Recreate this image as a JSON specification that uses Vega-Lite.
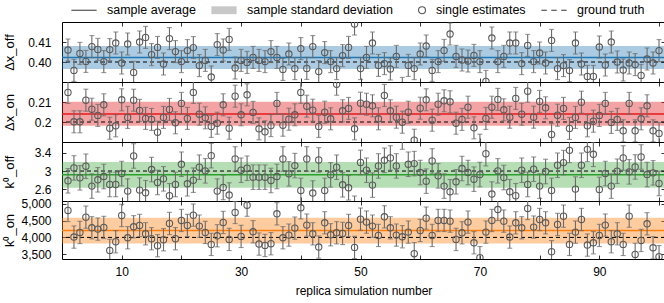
{
  "$schema": "https://vega.github.io/schema/vega-lite/v6.json",
  "padding": {"left": 2, "top": 3, "right": 0, "bottom": 0},
  "background": "white",
  "datasets": {
    "a": [
      {"i":1,"v":0.4060,"e":0.0055},{"i":2,"v":0.3958,"e":0.0055},{"i":3,"v":0.4043,"e":0.0055},{"i":4,"v":0.4003,"e":0.0055},{"i":5,"v":0.4077,"e":0.0055},{"i":6,"v":0.4063,"e":0.0055},{"i":7,"v":0.4002,"e":0.0055},{"i":8,"v":0.4062,"e":0.0055},{"i":9,"v":0.4095,"e":0.0055},{"i":10,"v":0.3995,"e":0.0055},
      {"i":11,"v":0.4090,"e":0.0055},{"i":12,"v":0.3948,"e":0.0055},{"i":13,"v":0.4100,"e":0.0055},{"i":14,"v":0.4123,"e":0.0055},{"i":15,"v":0.4037,"e":0.0055},{"i":16,"v":0.4073,"e":0.0055},{"i":17,"v":0.3990,"e":0.0055},{"i":18,"v":0.4117,"e":0.0055},{"i":19,"v":0.4052,"e":0.0055},{"i":20,"v":0.4002,"e":0.0055},
      {"i":21,"v":0.4057,"e":0.0055},{"i":22,"v":0.4072,"e":0.0055},{"i":23,"v":0.3982,"e":0.0055},{"i":24,"v":0.4008,"e":0.0055},{"i":25,"v":0.3925,"e":0.0055},{"i":26,"v":0.4087,"e":0.0055},{"i":27,"v":0.4060,"e":0.0055},{"i":28,"v":0.4113,"e":0.0055},{"i":29,"v":0.3970,"e":0.0055},{"i":30,"v":0.4008,"e":0.0055},
      {"i":31,"v":0.3998,"e":0.0055},{"i":32,"v":0.4023,"e":0.0055},{"i":33,"v":0.4008,"e":0.0055},{"i":34,"v":0.4002,"e":0.0055},{"i":35,"v":0.4052,"e":0.0055},{"i":36,"v":0.4023,"e":0.0055},{"i":37,"v":0.3963,"e":0.0055},{"i":38,"v":0.4040,"e":0.0055},{"i":39,"v":0.3967,"e":0.0055},{"i":40,"v":0.4067,"e":0.0055},
      {"i":41,"v":0.3968,"e":0.0055},{"i":42,"v":0.4077,"e":0.0055},{"i":43,"v":0.3952,"e":0.0055},{"i":44,"v":0.4047,"e":0.0055},{"i":45,"v":0.4002,"e":0.0055},{"i":46,"v":0.3967,"e":0.0055},{"i":47,"v":0.4032,"e":0.0055},{"i":48,"v":0.4073,"e":0.0055},{"i":49,"v":0.4190,"e":0.0055},{"i":50,"v":0.3967,"e":0.0055},
      {"i":51,"v":0.4023,"e":0.0055},{"i":52,"v":0.4095,"e":0.0055},{"i":53,"v":0.3983,"e":0.0055},{"i":54,"v":0.3992,"e":0.0055},{"i":55,"v":0.3965,"e":0.0055},{"i":56,"v":0.4028,"e":0.0055},{"i":57,"v":0.3868,"e":0.0055},{"i":58,"v":0.3983,"e":0.0055},{"i":59,"v":0.3967,"e":0.0055},{"i":60,"v":0.4040,"e":0.0055},
      {"i":61,"v":0.4080,"e":0.0055},{"i":62,"v":0.3958,"e":0.0055},{"i":63,"v":0.4002,"e":0.0055},{"i":64,"v":0.4058,"e":0.0055},{"i":65,"v":0.4140,"e":0.0055},{"i":66,"v":0.4028,"e":0.0055},{"i":67,"v":0.4010,"e":0.0055},{"i":68,"v":0.4005,"e":0.0055},{"i":69,"v":0.4033,"e":0.0055},{"i":70,"v":0.4002,"e":0.0055},
      {"i":71,"v":0.3903,"e":0.0055},{"i":72,"v":0.4120,"e":0.0055},{"i":73,"v":0.4002,"e":0.0055},{"i":74,"v":0.4028,"e":0.0055},{"i":75,"v":0.4095,"e":0.0055},{"i":76,"v":0.4095,"e":0.0055},{"i":77,"v":0.3992,"e":0.0055},{"i":78,"v":0.4083,"e":0.0055},{"i":79,"v":0.4002,"e":0.0055},{"i":80,"v":0.4045,"e":0.0055},
      {"i":81,"v":0.3995,"e":0.0055},{"i":82,"v":0.4108,"e":0.0055},{"i":83,"v":0.3967,"e":0.0055},{"i":84,"v":0.3982,"e":0.0055},{"i":85,"v":0.3957,"e":0.0055},{"i":86,"v":0.4095,"e":0.0055},{"i":87,"v":0.3990,"e":0.0055},{"i":88,"v":0.3928,"e":0.0055},{"i":89,"v":0.3928,"e":0.0055},{"i":90,"v":0.4075,"e":0.0055},
      {"i":91,"v":0.3985,"e":0.0055},{"i":92,"v":0.4100,"e":0.0055},{"i":93,"v":0.4000,"e":0.0055},{"i":94,"v":0.3960,"e":0.0055},{"i":95,"v":0.3995,"e":0.0055},{"i":96,"v":0.3987,"e":0.0055},{"i":97,"v":0.3933,"e":0.0055},{"i":98,"v":0.4015,"e":0.0055},{"i":99,"v":0.3995,"e":0.0055},{"i":100,"v":0.4057,"e":0.0055}
    ],
    "b": [
      {"i":1,"v":0.2148,"e":0.0055},{"i":2,"v":0.2001,"e":0.0055},{"i":3,"v":0.2001,"e":0.0055},{"i":4,"v":0.2109,"e":0.0055},{"i":5,"v":0.2064,"e":0.0055},{"i":6,"v":0.2033,"e":0.0055},{"i":7,"v":0.2086,"e":0.0055},{"i":8,"v":0.1969,"e":0.0055},{"i":9,"v":0.1981,"e":0.0055},{"i":10,"v":0.2111,"e":0.0055},
      {"i":11,"v":0.2023,"e":0.0055},{"i":12,"v":0.2109,"e":0.0055},{"i":13,"v":0.2058,"e":0.0055},{"i":14,"v":0.2018,"e":0.0055},{"i":15,"v":0.2013,"e":0.0055},{"i":16,"v":0.1949,"e":0.0055},{"i":17,"v":0.2023,"e":0.0055},{"i":18,"v":0.2063,"e":0.0055},{"i":19,"v":0.1996,"e":0.0055},{"i":20,"v":0.2093,"e":0.0055},
      {"i":21,"v":0.2018,"e":0.0055},{"i":22,"v":0.2148,"e":0.0055},{"i":23,"v":0.2039,"e":0.0055},{"i":24,"v":0.2021,"e":0.0055},{"i":25,"v":0.1978,"e":0.0055},{"i":26,"v":0.1994,"e":0.0055},{"i":27,"v":0.2086,"e":0.0055},{"i":28,"v":0.1969,"e":0.0055},{"i":29,"v":0.2129,"e":0.0055},{"i":30,"v":0.2036,"e":0.0055},
      {"i":31,"v":0.2136,"e":0.0055},{"i":32,"v":0.2048,"e":0.0055},{"i":33,"v":0.1966,"e":0.0055},{"i":34,"v":0.1951,"e":0.0055},{"i":35,"v":0.1982,"e":0.0055},{"i":36,"v":0.2093,"e":0.0055},{"i":37,"v":0.1984,"e":0.0055},{"i":38,"v":0.2014,"e":0.0055},{"i":39,"v":0.2036,"e":0.0055},{"i":40,"v":0.2148,"e":0.0055},
      {"i":41,"v":0.2079,"e":0.0055},{"i":42,"v":0.2059,"e":0.0055},{"i":43,"v":0.1978,"e":0.0055},{"i":44,"v":0.2049,"e":0.0055},{"i":45,"v":0.2016,"e":0.0055},{"i":46,"v":0.2189,"e":0.0055},{"i":47,"v":0.2056,"e":0.0055},{"i":48,"v":0.2068,"e":0.0055},{"i":49,"v":0.1966,"e":0.0055},{"i":50,"v":0.2094,"e":0.0055},
      {"i":51,"v":0.2089,"e":0.0055},{"i":52,"v":0.2081,"e":0.0055},{"i":53,"v":0.2016,"e":0.0055},{"i":54,"v":0.2133,"e":0.0055},{"i":55,"v":0.2056,"e":0.0055},{"i":56,"v":0.2024,"e":0.0055},{"i":57,"v":0.1999,"e":0.0055},{"i":58,"v":0.2049,"e":0.0055},{"i":59,"v":0.1909,"e":0.0055},{"i":60,"v":0.2069,"e":0.0055},
      {"i":61,"v":0.2111,"e":0.0055},{"i":62,"v":0.2009,"e":0.0055},{"i":63,"v":0.2089,"e":0.0055},{"i":64,"v":0.2106,"e":0.0055},{"i":65,"v":0.2101,"e":0.0055},{"i":66,"v":0.1994,"e":0.0055},{"i":67,"v":0.2013,"e":0.0055},{"i":68,"v":0.2074,"e":0.0055},{"i":69,"v":0.1971,"e":0.0055},{"i":70,"v":0.1884,"e":0.0055},
      {"i":71,"v":0.2018,"e":0.0055},{"i":72,"v":0.2074,"e":0.0055},{"i":73,"v":0.2113,"e":0.0055},{"i":74,"v":0.2061,"e":0.0055},{"i":75,"v":0.2024,"e":0.0055},{"i":76,"v":0.2118,"e":0.0055},{"i":77,"v":0.2039,"e":0.0055},{"i":78,"v":0.2154,"e":0.0055},{"i":79,"v":0.2024,"e":0.0055},{"i":80,"v":0.2103,"e":0.0055},
      {"i":81,"v":0.2071,"e":0.0055},{"i":82,"v":0.1938,"e":0.0055},{"i":83,"v":0.2034,"e":0.0055},{"i":84,"v":0.2068,"e":0.0055},{"i":85,"v":0.1968,"e":0.0055},{"i":86,"v":0.2023,"e":0.0055},{"i":87,"v":0.2099,"e":0.0055},{"i":88,"v":0.1981,"e":0.0055},{"i":89,"v":0.2004,"e":0.0055},{"i":90,"v":0.2033,"e":0.0055},
      {"i":91,"v":0.2093,"e":0.0055},{"i":92,"v":0.1998,"e":0.0055},{"i":93,"v":0.2013,"e":0.0055},{"i":94,"v":0.1956,"e":0.0055},{"i":95,"v":0.2093,"e":0.0055},{"i":96,"v":0.1956,"e":0.0055},{"i":97,"v":0.2016,"e":0.0055},{"i":98,"v":0.2081,"e":0.0055},{"i":99,"v":0.1956,"e":0.0055},{"i":100,"v":0.1943,"e":0.0055}
    ],
    "c": [
      {"i":1,"v":2.785,"e":0.27},{"i":2,"v":3.069,"e":0.27},{"i":3,"v":2.850,"e":0.27},{"i":4,"v":3.106,"e":0.27},{"i":5,"v":2.668,"e":0.27},{"i":6,"v":2.807,"e":0.27},{"i":7,"v":2.880,"e":0.27},{"i":8,"v":2.704,"e":0.27},{"i":9,"v":2.704,"e":0.27},{"i":10,"v":2.945,"e":0.27},
      {"i":11,"v":2.558,"e":0.27},{"i":12,"v":3.332,"e":0.27},{"i":13,"v":2.580,"e":0.27},{"i":14,"v":2.522,"e":0.27},{"i":15,"v":3.033,"e":0.27},{"i":16,"v":2.748,"e":0.27},{"i":17,"v":2.828,"e":0.27},{"i":18,"v":2.456,"e":0.27},{"i":19,"v":2.704,"e":0.27},{"i":20,"v":3.150,"e":0.27},
      {"i":21,"v":2.719,"e":0.27},{"i":22,"v":2.799,"e":0.27},{"i":23,"v":3.084,"e":0.27},{"i":24,"v":3.004,"e":0.27},{"i":25,"v":3.339,"e":0.27},{"i":26,"v":2.558,"e":0.27},{"i":27,"v":2.639,"e":0.27},{"i":28,"v":2.471,"e":0.27},{"i":29,"v":3.266,"e":0.27},{"i":30,"v":3.018,"e":0.27},
      {"i":31,"v":3.062,"e":0.27},{"i":32,"v":2.865,"e":0.27},{"i":33,"v":2.865,"e":0.27},{"i":34,"v":2.865,"e":0.27},{"i":35,"v":2.792,"e":0.27},{"i":36,"v":2.880,"e":0.27},{"i":37,"v":3.266,"e":0.27},{"i":38,"v":2.938,"e":0.27},{"i":39,"v":3.120,"e":0.27},{"i":40,"v":2.573,"e":0.27},
      {"i":41,"v":3.266,"e":0.27},{"i":42,"v":2.515,"e":0.27},{"i":43,"v":3.245,"e":0.27},{"i":44,"v":2.573,"e":0.27},{"i":45,"v":2.916,"e":0.27},{"i":46,"v":3.084,"e":0.27},{"i":47,"v":2.697,"e":0.27},{"i":48,"v":2.631,"e":0.27},{"i":49,"v":2.180,"e":0.27},{"i":50,"v":3.190,"e":0.27},
      {"i":51,"v":3.018,"e":0.27},{"i":52,"v":2.690,"e":0.27},{"i":53,"v":3.113,"e":0.27},{"i":54,"v":3.237,"e":0.27},{"i":55,"v":3.288,"e":0.27},{"i":56,"v":3.113,"e":0.27},{"i":57,"v":3.750,"e":0.27},{"i":58,"v":3.150,"e":0.27},{"i":59,"v":3.164,"e":0.27},{"i":60,"v":2.967,"e":0.27},
      {"i":61,"v":2.777,"e":0.27},{"i":62,"v":3.223,"e":0.27},{"i":63,"v":2.894,"e":0.27},{"i":64,"v":2.668,"e":0.27},{"i":65,"v":2.544,"e":0.27},{"i":66,"v":2.763,"e":0.27},{"i":67,"v":3.055,"e":0.27},{"i":68,"v":2.967,"e":0.27},{"i":69,"v":2.821,"e":0.27},{"i":70,"v":2.923,"e":0.27},
      {"i":71,"v":3.383,"e":0.27},{"i":72,"v":2.493,"e":0.27},{"i":73,"v":3.004,"e":0.27},{"i":74,"v":2.858,"e":0.27},{"i":75,"v":2.544,"e":0.27},{"i":76,"v":2.456,"e":0.27},{"i":77,"v":3.018,"e":0.27},{"i":78,"v":2.704,"e":0.27},{"i":79,"v":3.040,"e":0.27},{"i":80,"v":2.668,"e":0.27},
      {"i":81,"v":2.990,"e":0.27},{"i":82,"v":2.573,"e":0.27},{"i":83,"v":3.128,"e":0.27},{"i":84,"v":3.186,"e":0.27},{"i":85,"v":3.456,"e":0.27},{"i":86,"v":2.602,"e":0.27},{"i":87,"v":3.128,"e":0.27},{"i":88,"v":3.478,"e":0.27},{"i":89,"v":3.369,"e":0.27},{"i":90,"v":2.595,"e":0.27},
      {"i":91,"v":2.945,"e":0.27},{"i":92,"v":2.668,"e":0.27},{"i":93,"v":2.996,"e":0.27},{"i":94,"v":3.288,"e":0.27},{"i":95,"v":2.982,"e":0.27},{"i":96,"v":3.091,"e":0.27},{"i":97,"v":3.310,"e":0.27},{"i":98,"v":2.923,"e":0.27},{"i":99,"v":2.960,"e":0.27},{"i":100,"v":2.726,"e":0.27}
    ],
    "d": [
      {"i":1,"v":4799,"e":330},{"i":2,"v":4010,"e":330},{"i":3,"v":4148,"e":330},{"i":4,"v":4601,"e":330},{"i":5,"v":4286,"e":330},{"i":6,"v":4247,"e":330},{"i":7,"v":4296,"e":330},{"i":8,"v":3615,"e":330},{"i":9,"v":3872,"e":330},{"i":10,"v":4651,"e":330},
      {"i":11,"v":3990,"e":330},{"i":12,"v":4316,"e":330},{"i":13,"v":4355,"e":330},{"i":14,"v":4108,"e":330},{"i":15,"v":3961,"e":330},{"i":16,"v":3754,"e":330},{"i":17,"v":3931,"e":330},{"i":18,"v":4414,"e":330},{"i":19,"v":3961,"e":330},{"i":20,"v":4503,"e":330},
      {"i":21,"v":4355,"e":330},{"i":22,"v":4661,"e":330},{"i":23,"v":4335,"e":330},{"i":24,"v":4148,"e":330},{"i":25,"v":3793,"e":330},{"i":26,"v":4049,"e":330},{"i":27,"v":4444,"e":330},{"i":28,"v":3941,"e":330},{"i":29,"v":4740,"e":330},{"i":30,"v":4030,"e":330},
      {"i":31,"v":4956,"e":330},{"i":32,"v":4168,"e":330},{"i":33,"v":3803,"e":330},{"i":34,"v":3763,"e":330},{"i":35,"v":3813,"e":330},{"i":36,"v":4700,"e":330},{"i":37,"v":3990,"e":330},{"i":38,"v":4069,"e":330},{"i":39,"v":4276,"e":330},{"i":40,"v":4878,"e":330},
      {"i":41,"v":4365,"e":330},{"i":42,"v":4108,"e":330},{"i":43,"v":3714,"e":330},{"i":44,"v":4434,"e":330},{"i":45,"v":4079,"e":330},{"i":46,"v":4138,"e":330},{"i":47,"v":4118,"e":330},{"i":48,"v":4355,"e":330},{"i":49,"v":3704,"e":330},{"i":50,"v":4542,"e":330},
      {"i":51,"v":4454,"e":330},{"i":52,"v":4335,"e":330},{"i":53,"v":4059,"e":330},{"i":54,"v":4611,"e":330},{"i":55,"v":4286,"e":330},{"i":56,"v":4069,"e":330},{"i":57,"v":4020,"e":330},{"i":58,"v":4158,"e":330},{"i":59,"v":3517,"e":330},{"i":60,"v":4207,"e":330},
      {"i":61,"v":4572,"e":330},{"i":62,"v":4059,"e":330},{"i":63,"v":4503,"e":330},{"i":64,"v":4503,"e":330},{"i":65,"v":4483,"e":330},{"i":66,"v":3941,"e":330},{"i":67,"v":4138,"e":330},{"i":68,"v":4454,"e":330},{"i":69,"v":3842,"e":330},{"i":70,"v":3399,"e":330},
      {"i":71,"v":4158,"e":330},{"i":72,"v":4503,"e":330},{"i":73,"v":4828,"e":330},{"i":74,"v":4483,"e":330},{"i":75,"v":4010,"e":330},{"i":76,"v":4434,"e":330},{"i":77,"v":4286,"e":330},{"i":78,"v":4858,"e":330},{"i":79,"v":4306,"e":330},{"i":80,"v":4532,"e":330},
      {"i":81,"v":4434,"e":330},{"i":82,"v":3576,"e":330},{"i":83,"v":4385,"e":330},{"i":84,"v":4631,"e":330},{"i":85,"v":3793,"e":330},{"i":86,"v":4158,"e":330},{"i":87,"v":4532,"e":330},{"i":88,"v":3773,"e":330},{"i":89,"v":3842,"e":330},{"i":90,"v":4059,"e":330},
      {"i":91,"v":4365,"e":330},{"i":92,"v":3872,"e":330},{"i":93,"v":4108,"e":330},{"i":94,"v":3793,"e":330},{"i":95,"v":4631,"e":330},{"i":96,"v":3497,"e":330},{"i":97,"v":3911,"e":330},{"i":98,"v":4404,"e":330},{"i":99,"v":3694,"e":330},{"i":100,"v":3428,"e":330}
    ]
  },
  "vconcat": [
    {
      "width": 603, "height": 60,
      "layer": [
        {"data": {"values": [{"lo": 0.3965, "hi": 0.4080}]}, "mark": {"type": "rect", "color": "#1f77b4", "opacity": 0.38},
         "encoding": {"y": {"field": "lo", "type": "quantitative", "scale": {"domain": [0.39, 0.42], "nice": false, "zero": false}, "axis": {"orient": "left", "values": [0.40, 0.41], "format": ".2f", "title": "Δx_off"}}, "y2": {"field": "hi"}}},
        {"data": {"values": [{"m": 0.4023}]}, "mark": {"type": "rule", "color": "#1f77b4", "strokeWidth": 1.5},
         "encoding": {"y": {"field": "m", "type": "quantitative", "scale": {"domain": [0.39, 0.42], "nice": false, "zero": false}, "axis": null}}},
        {"data": {"values": [{"g": 0.40}]}, "mark": {"type": "rule", "color": "#000000", "strokeWidth": 1, "strokeDash": [4, 3]},
         "encoding": {"y": {"field": "g", "type": "quantitative", "scale": {"domain": [0.39, 0.42], "nice": false, "zero": false}, "axis": null}}},
        {"data": {"name": "a"}, "mark": {"type": "errorbar", "ticks": {"size": 5}, "color": "#6a6a6a", "thickness": 1.1, "clip": true},
         "encoding": {"x": {"field": "i", "type": "quantitative", "scale": {"domain": [0, 101], "nice": false, "zero": false}, "axis": null},
                      "y": {"field": "v", "type": "quantitative", "scale": {"domain": [0.39, 0.42], "nice": false, "zero": false}, "axis": null}, "yError": {"field": "e"}}},
        {"data": {"name": "a"}, "mark": {"type": "point", "shape": "circle", "filled": false, "color": "#5a5a5a", "strokeWidth": 1.1, "size": 40, "opacity": 1, "clip": true},
         "encoding": {"x": {"field": "i", "type": "quantitative", "scale": {"domain": [0, 101], "nice": false, "zero": false}, "axis": {"orient": "bottom", "values": [10,20,30,40,50,60,70,80,90,100], "labels": false, "title": null}},
                      "y": {"field": "v", "type": "quantitative", "scale": {"domain": [0.39, 0.42], "nice": false, "zero": false}, "axis": null}}},
        {"data": {"name": "a"}, "mark": {"type": "point", "opacity": 0},
         "encoding": {"x": {"field": "i", "type": "quantitative", "scale": {"domain": [0, 101], "nice": false, "zero": false}, "axis": {"orient": "top", "values": [10,20,30,40,50,60,70,80,90,100], "labels": false, "title": null}},
                      "y": {"field": "v", "type": "quantitative", "scale": {"domain": [0.39, 0.42], "nice": false, "zero": false}, "axis": {"orient": "right", "values": [0.40, 0.41], "labels": false, "title": null}}}},
        {"data": {"values": [{"k": "sample average"}, {"k": "sample standard deviation"}, {"k": "single estimates"}, {"k": "ground truth"}]},
         "mark": {"type": "point", "opacity": 0},
         "encoding": {
            "shape": {"field": "k", "type": "nominal",
              "scale": {"domain": ["sample average", "sample standard deviation", "single estimates", "ground truth"],
                        "range": ["M-2.1,0H2.1", "M-2.1,-0.65H2.1V0.65H-2.1Z", "M2.08,0A0.58,0.58,0,1,1,0.92,0A0.58,0.58,0,1,1,2.08,0", "M-2.1,0H-1.2M-0.45,0H0.45M1.2,0H2.1"]},
              "legend": {"orient": "none", "legendX": 15, "legendY": -19, "direction": "horizontal", "title": null,
                         "symbolSize": 144, "symbolStrokeWidth": 1.1, "symbolOpacity": 1, "labelOffset": 16, "columnPadding": 13,
                         "labelFontSize": 12.5, "labelFont": "Liberation Sans", "labelColor": "#000000"}},
            "fill": {"field": "k", "type": "nominal",
              "scale": {"domain": ["sample average", "sample standard deviation", "single estimates", "ground truth"],
                        "range": ["transparent", "#c8c8c8", "transparent", "transparent"]},
              "legend": {"orient": "none", "legendX": 15, "legendY": -19, "direction": "horizontal", "title": null,
                         "symbolSize": 144, "symbolStrokeWidth": 1.1, "symbolOpacity": 1, "labelOffset": 16, "columnPadding": 13,
                         "labelFontSize": 12.5, "labelFont": "Liberation Sans", "labelColor": "#000000"}},
            "stroke": {"field": "k", "type": "nominal",
              "scale": {"domain": ["sample average", "sample standard deviation", "single estimates", "ground truth"],
                        "range": ["#444444", "transparent", "#555555", "#333333"]},
              "legend": {"orient": "none", "legendX": 15, "legendY": -19, "direction": "horizontal", "title": null,
                         "symbolSize": 144, "symbolStrokeWidth": 1.1, "symbolOpacity": 1, "labelOffset": 16, "columnPadding": 13,
                         "labelFontSize": 12.5, "labelFont": "Liberation Sans", "labelColor": "#000000"}}}}
      ],
      "resolve": {"axis": {"x": "independent", "y": "independent"}}
    },
    {
      "width": 603, "height": 60,
      "layer": [
        {"data": {"values": [{"lo": 0.1981, "hi": 0.2101}]}, "mark": {"type": "rect", "color": "#e41a1c", "opacity": 0.4},
         "encoding": {"y": {"field": "lo", "type": "quantitative", "scale": {"domain": [0.19, 0.22], "nice": false, "zero": false}, "axis": {"orient": "left", "values": [0.2, 0.21], "format": "~g", "title": "Δx_on"}}, "y2": {"field": "hi"}}},
        {"data": {"values": [{"m": 0.2040}]}, "mark": {"type": "rule", "color": "#e41a1c", "strokeWidth": 1.5},
         "encoding": {"y": {"field": "m", "type": "quantitative", "scale": {"domain": [0.19, 0.22], "nice": false, "zero": false}, "axis": null}}},
        {"data": {"values": [{"g": 0.20}]}, "mark": {"type": "rule", "color": "#000000", "strokeWidth": 1, "strokeDash": [4, 3]},
         "encoding": {"y": {"field": "g", "type": "quantitative", "scale": {"domain": [0.19, 0.22], "nice": false, "zero": false}, "axis": null}}},
        {"data": {"name": "b"}, "mark": {"type": "errorbar", "ticks": {"size": 5}, "color": "#6a6a6a", "thickness": 1.1, "clip": true},
         "encoding": {"x": {"field": "i", "type": "quantitative", "scale": {"domain": [0, 101], "nice": false, "zero": false}, "axis": null},
                      "y": {"field": "v", "type": "quantitative", "scale": {"domain": [0.19, 0.22], "nice": false, "zero": false}, "axis": null}, "yError": {"field": "e"}}},
        {"data": {"name": "b"}, "mark": {"type": "point", "shape": "circle", "filled": false, "color": "#5a5a5a", "strokeWidth": 1.1, "size": 40, "opacity": 1, "clip": true},
         "encoding": {"x": {"field": "i", "type": "quantitative", "scale": {"domain": [0, 101], "nice": false, "zero": false}, "axis": {"orient": "bottom", "values": [10,20,30,40,50,60,70,80,90,100], "labels": false, "title": null}},
                      "y": {"field": "v", "type": "quantitative", "scale": {"domain": [0.19, 0.22], "nice": false, "zero": false}, "axis": null}}},
        {"data": {"name": "b"}, "mark": {"type": "point", "opacity": 0},
         "encoding": {"x": {"field": "i", "type": "quantitative", "scale": {"domain": [0, 101], "nice": false, "zero": false}, "axis": {"orient": "top", "values": [10,20,30,40,50,60,70,80,90,100], "labels": false, "title": null}},
                      "y": {"field": "v", "type": "quantitative", "scale": {"domain": [0.19, 0.22], "nice": false, "zero": false}, "axis": {"orient": "right", "values": [0.2, 0.21], "labels": false, "title": null}}}}
      ],
      "resolve": {"axis": {"x": "independent", "y": "independent"}}
    },
    {
      "width": 603, "height": 59,
      "layer": [
        {"data": {"values": [{"lo": 2.633, "hi": 3.200}]}, "mark": {"type": "rect", "color": "#2ca02c", "opacity": 0.35},
         "encoding": {"y": {"field": "lo", "type": "quantitative", "scale": {"domain": [2.34, 3.64], "nice": false, "zero": false}, "axis": {"orient": "left", "values": [2.6, 3, 3.4], "format": "~g", "title": "k⁰_off"}}, "y2": {"field": "hi"}}},
        {"data": {"values": [{"m": 2.917}]}, "mark": {"type": "rule", "color": "#2ca02c", "strokeWidth": 1.5},
         "encoding": {"y": {"field": "m", "type": "quantitative", "scale": {"domain": [2.34, 3.64], "nice": false, "zero": false}, "axis": null}}},
        {"data": {"values": [{"g": 3.0}]}, "mark": {"type": "rule", "color": "#000000", "strokeWidth": 1, "strokeDash": [4, 3]},
         "encoding": {"y": {"field": "g", "type": "quantitative", "scale": {"domain": [2.34, 3.64], "nice": false, "zero": false}, "axis": null}}},
        {"data": {"name": "c"}, "mark": {"type": "errorbar", "ticks": {"size": 5}, "color": "#6a6a6a", "thickness": 1.1, "clip": true},
         "encoding": {"x": {"field": "i", "type": "quantitative", "scale": {"domain": [0, 101], "nice": false, "zero": false}, "axis": null},
                      "y": {"field": "v", "type": "quantitative", "scale": {"domain": [2.34, 3.64], "nice": false, "zero": false}, "axis": null}, "yError": {"field": "e"}}},
        {"data": {"name": "c"}, "mark": {"type": "point", "shape": "circle", "filled": false, "color": "#5a5a5a", "strokeWidth": 1.1, "size": 40, "opacity": 1, "clip": true},
         "encoding": {"x": {"field": "i", "type": "quantitative", "scale": {"domain": [0, 101], "nice": false, "zero": false}, "axis": {"orient": "bottom", "values": [10,20,30,40,50,60,70,80,90,100], "labels": false, "title": null}},
                      "y": {"field": "v", "type": "quantitative", "scale": {"domain": [2.34, 3.64], "nice": false, "zero": false}, "axis": null}}},
        {"data": {"name": "c"}, "mark": {"type": "point", "opacity": 0},
         "encoding": {"x": {"field": "i", "type": "quantitative", "scale": {"domain": [0, 101], "nice": false, "zero": false}, "axis": {"orient": "top", "values": [10,20,30,40,50,60,70,80,90,100], "labels": false, "title": null}},
                      "y": {"field": "v", "type": "quantitative", "scale": {"domain": [2.34, 3.64], "nice": false, "zero": false}, "axis": {"orient": "right", "values": [2.6, 3, 3.4], "labels": false, "title": null}}}}
      ],
      "resolve": {"axis": {"x": "independent", "y": "independent"}}
    },
    {
      "width": 603, "height": 58,
      "layer": [
        {"data": {"values": [{"lo": 3823, "hi": 4582}]}, "mark": {"type": "rect", "color": "#ff7f0e", "opacity": 0.4},
         "encoding": {"y": {"field": "lo", "type": "quantitative", "scale": {"domain": [3360, 5080], "nice": false, "zero": false}, "axis": {"orient": "left", "values": [3500, 4000, 4500, 5000], "format": ",.0f", "title": "k⁰_on"}}, "y2": {"field": "hi"}}},
        {"data": {"values": [{"m": 4203}]}, "mark": {"type": "rule", "color": "#ff7f0e", "strokeWidth": 1.5},
         "encoding": {"y": {"field": "m", "type": "quantitative", "scale": {"domain": [3360, 5080], "nice": false, "zero": false}, "axis": null}}},
        {"data": {"values": [{"g": 4000}]}, "mark": {"type": "rule", "color": "#000000", "strokeWidth": 1, "strokeDash": [4, 3]},
         "encoding": {"y": {"field": "g", "type": "quantitative", "scale": {"domain": [3360, 5080], "nice": false, "zero": false}, "axis": null}}},
        {"data": {"name": "d"}, "mark": {"type": "errorbar", "ticks": {"size": 5}, "color": "#6a6a6a", "thickness": 1.1, "clip": true},
         "encoding": {"x": {"field": "i", "type": "quantitative", "scale": {"domain": [0, 101], "nice": false, "zero": false}, "axis": null},
                      "y": {"field": "v", "type": "quantitative", "scale": {"domain": [3360, 5080], "nice": false, "zero": false}, "axis": null}, "yError": {"field": "e"}}},
        {"data": {"name": "d"}, "mark": {"type": "point", "shape": "circle", "filled": false, "color": "#5a5a5a", "strokeWidth": 1.1, "size": 40, "opacity": 1, "clip": true},
         "encoding": {"x": {"field": "i", "type": "quantitative", "scale": {"domain": [0, 101], "nice": false, "zero": false}, "axis": {"orient": "bottom", "values": [10,20,30,40,50,60,70,80,90,100], "labelExpr": "datum.value % 20 == 10 ? datum.label : ''", "title": "replica simulation number"}},
                      "y": {"field": "v", "type": "quantitative", "scale": {"domain": [3360, 5080], "nice": false, "zero": false}, "axis": null}}},
        {"data": {"name": "d"}, "mark": {"type": "point", "opacity": 0},
         "encoding": {"x": {"field": "i", "type": "quantitative", "scale": {"domain": [0, 101], "nice": false, "zero": false}, "axis": {"orient": "top", "values": [10,20,30,40,50,60,70,80,90,100], "labels": false, "title": null}},
                      "y": {"field": "v", "type": "quantitative", "scale": {"domain": [3360, 5080], "nice": false, "zero": false}, "axis": {"orient": "right", "values": [3500, 4000, 4500, 5000], "labels": false, "title": null}}}}
      ],
      "resolve": {"axis": {"x": "independent", "y": "independent"}}
    }
  ],
  "spacing": 0,
  "bounds": "flush",
  "config": {
    "font": "Liberation Sans",
    "view": {"stroke": "#000000", "strokeWidth": 1},
    "axis": {"domain": false, "grid": false, "ticks": true, "tickColor": "#000000", "tickSize": -4, "tickWidth": 0.8,
             "labelFont": "Liberation Sans", "labelFontSize": 12, "labelColor": "#000000", "labelFlush": false, "labelOverlap": false,
             "titleFont": "Liberation Sans", "titleFontWeight": "normal", "titleColor": "#000000", "titleFontSize": 12},
    "axisLeft": {"labelPadding": 15, "titleFontSize": 13, "titleX": -46},
    "axisBottom": {"labelPadding": 11, "titlePadding": 8}
  }
}
